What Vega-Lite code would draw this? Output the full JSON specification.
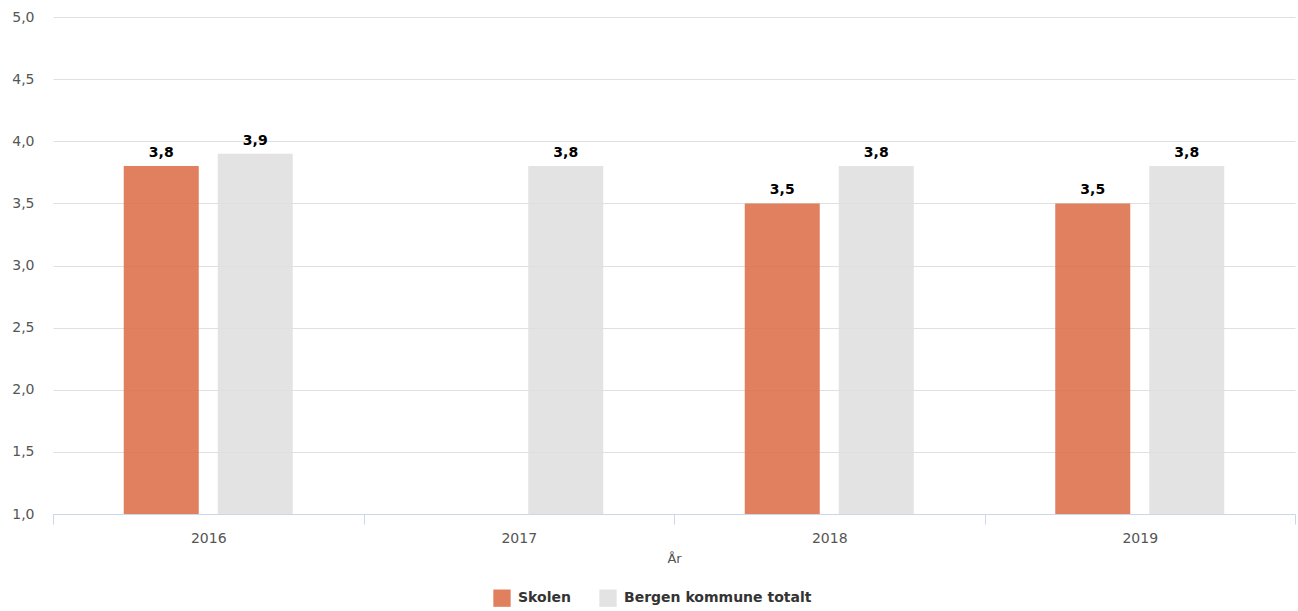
{
  "$schema": "https://vega.github.io/schema/vega-lite/v6.json",
  "width": 1242,
  "height": 497,
  "autosize": {"type": "none"},
  "padding": {"left": 53, "top": 17, "right": 3, "bottom": 97},
  "background": "white",
  "config": {
    "locale": {"number": {"decimal": ",", "thousands": " ", "grouping": [3], "currency": ["", " kr"]}},
    "font": "DejaVu Sans",
    "view": {"stroke": null}
  },
  "data": {
    "values": [
      {"year": "2016", "serie": "Skolen", "value": 3.8},
      {"year": "2016", "serie": "Bergen kommune totalt", "value": 3.9},
      {"year": "2017", "serie": "Bergen kommune totalt", "value": 3.8},
      {"year": "2018", "serie": "Skolen", "value": 3.5},
      {"year": "2018", "serie": "Bergen kommune totalt", "value": 3.8},
      {"year": "2019", "serie": "Skolen", "value": 3.5},
      {"year": "2019", "serie": "Bergen kommune totalt", "value": 3.8}
    ]
  },
  "encoding": {
    "x": {
      "field": "year", "type": "nominal", "title": "År",
      "scale": {"paddingInner": 0, "paddingOuter": 0},
      "axis": {
        "labelAngle": 0, "labelFontSize": 14, "labelColor": "#555555", "labelPadding": 7,
        "domainColor": "#ccd6eb", "tickColor": "#ccd6eb", "tickBand": "extent", "tickSize": 10,
        "titleFontSize": 13, "titleFontWeight": "normal", "titleColor": "#555555", "titlePadding": 7
      }
    },
    "xOffset": {
      "field": "serie", "type": "nominal",
      "sort": ["Skolen", "Bergen kommune totalt"],
      "scale": {"paddingInner": 0.202, "paddingOuter": 0.7526}
    },
    "y": {
      "field": "value", "type": "quantitative", "title": null,
      "scale": {"domain": [1, 5], "nice": false, "zero": false},
      "axis": {
        "values": [1, 1.5, 2, 2.5, 3, 3.5, 4, 4.5, 5], "format": ".1f",
        "domain": false, "ticks": false, "labelPadding": 19, "labelFontSize": 14,
        "labelColor": "#555555", "gridColor": "#e0e0e0"
      }
    }
  },
  "layer": [
    {
      "mark": {"type": "bar", "opacity": 0.85, "clip": true},
      "encoding": {
        "y2": {"datum": 1},
        "color": {
          "field": "serie", "type": "nominal", "title": null,
          "sort": ["Skolen", "Bergen kommune totalt"],
          "scale": {"domain": ["Skolen", "Bergen kommune totalt"], "range": ["#db6a43", "#dedede"]},
          "legend": {
            "orient": "none", "direction": "horizontal", "legendX": 440, "legendY": 572,
            "symbolType": "square", "symbolSize": 300, "symbolOpacity": 0.85, "symbolStrokeWidth": 0,
            "labelFontSize": 14, "labelFontWeight": "bold", "labelColor": "#333333", "labelLimit": 400,
            "columnPadding": 28, "labelOffset": 7
          }
        }
      }
    },
    {
      "mark": {"type": "text", "dy": -13, "fontSize": 14, "fontWeight": "bold", "color": "#000000"},
      "encoding": {
        "text": {"field": "value", "type": "quantitative", "format": ".1f"}
      }
    }
  ]
}
